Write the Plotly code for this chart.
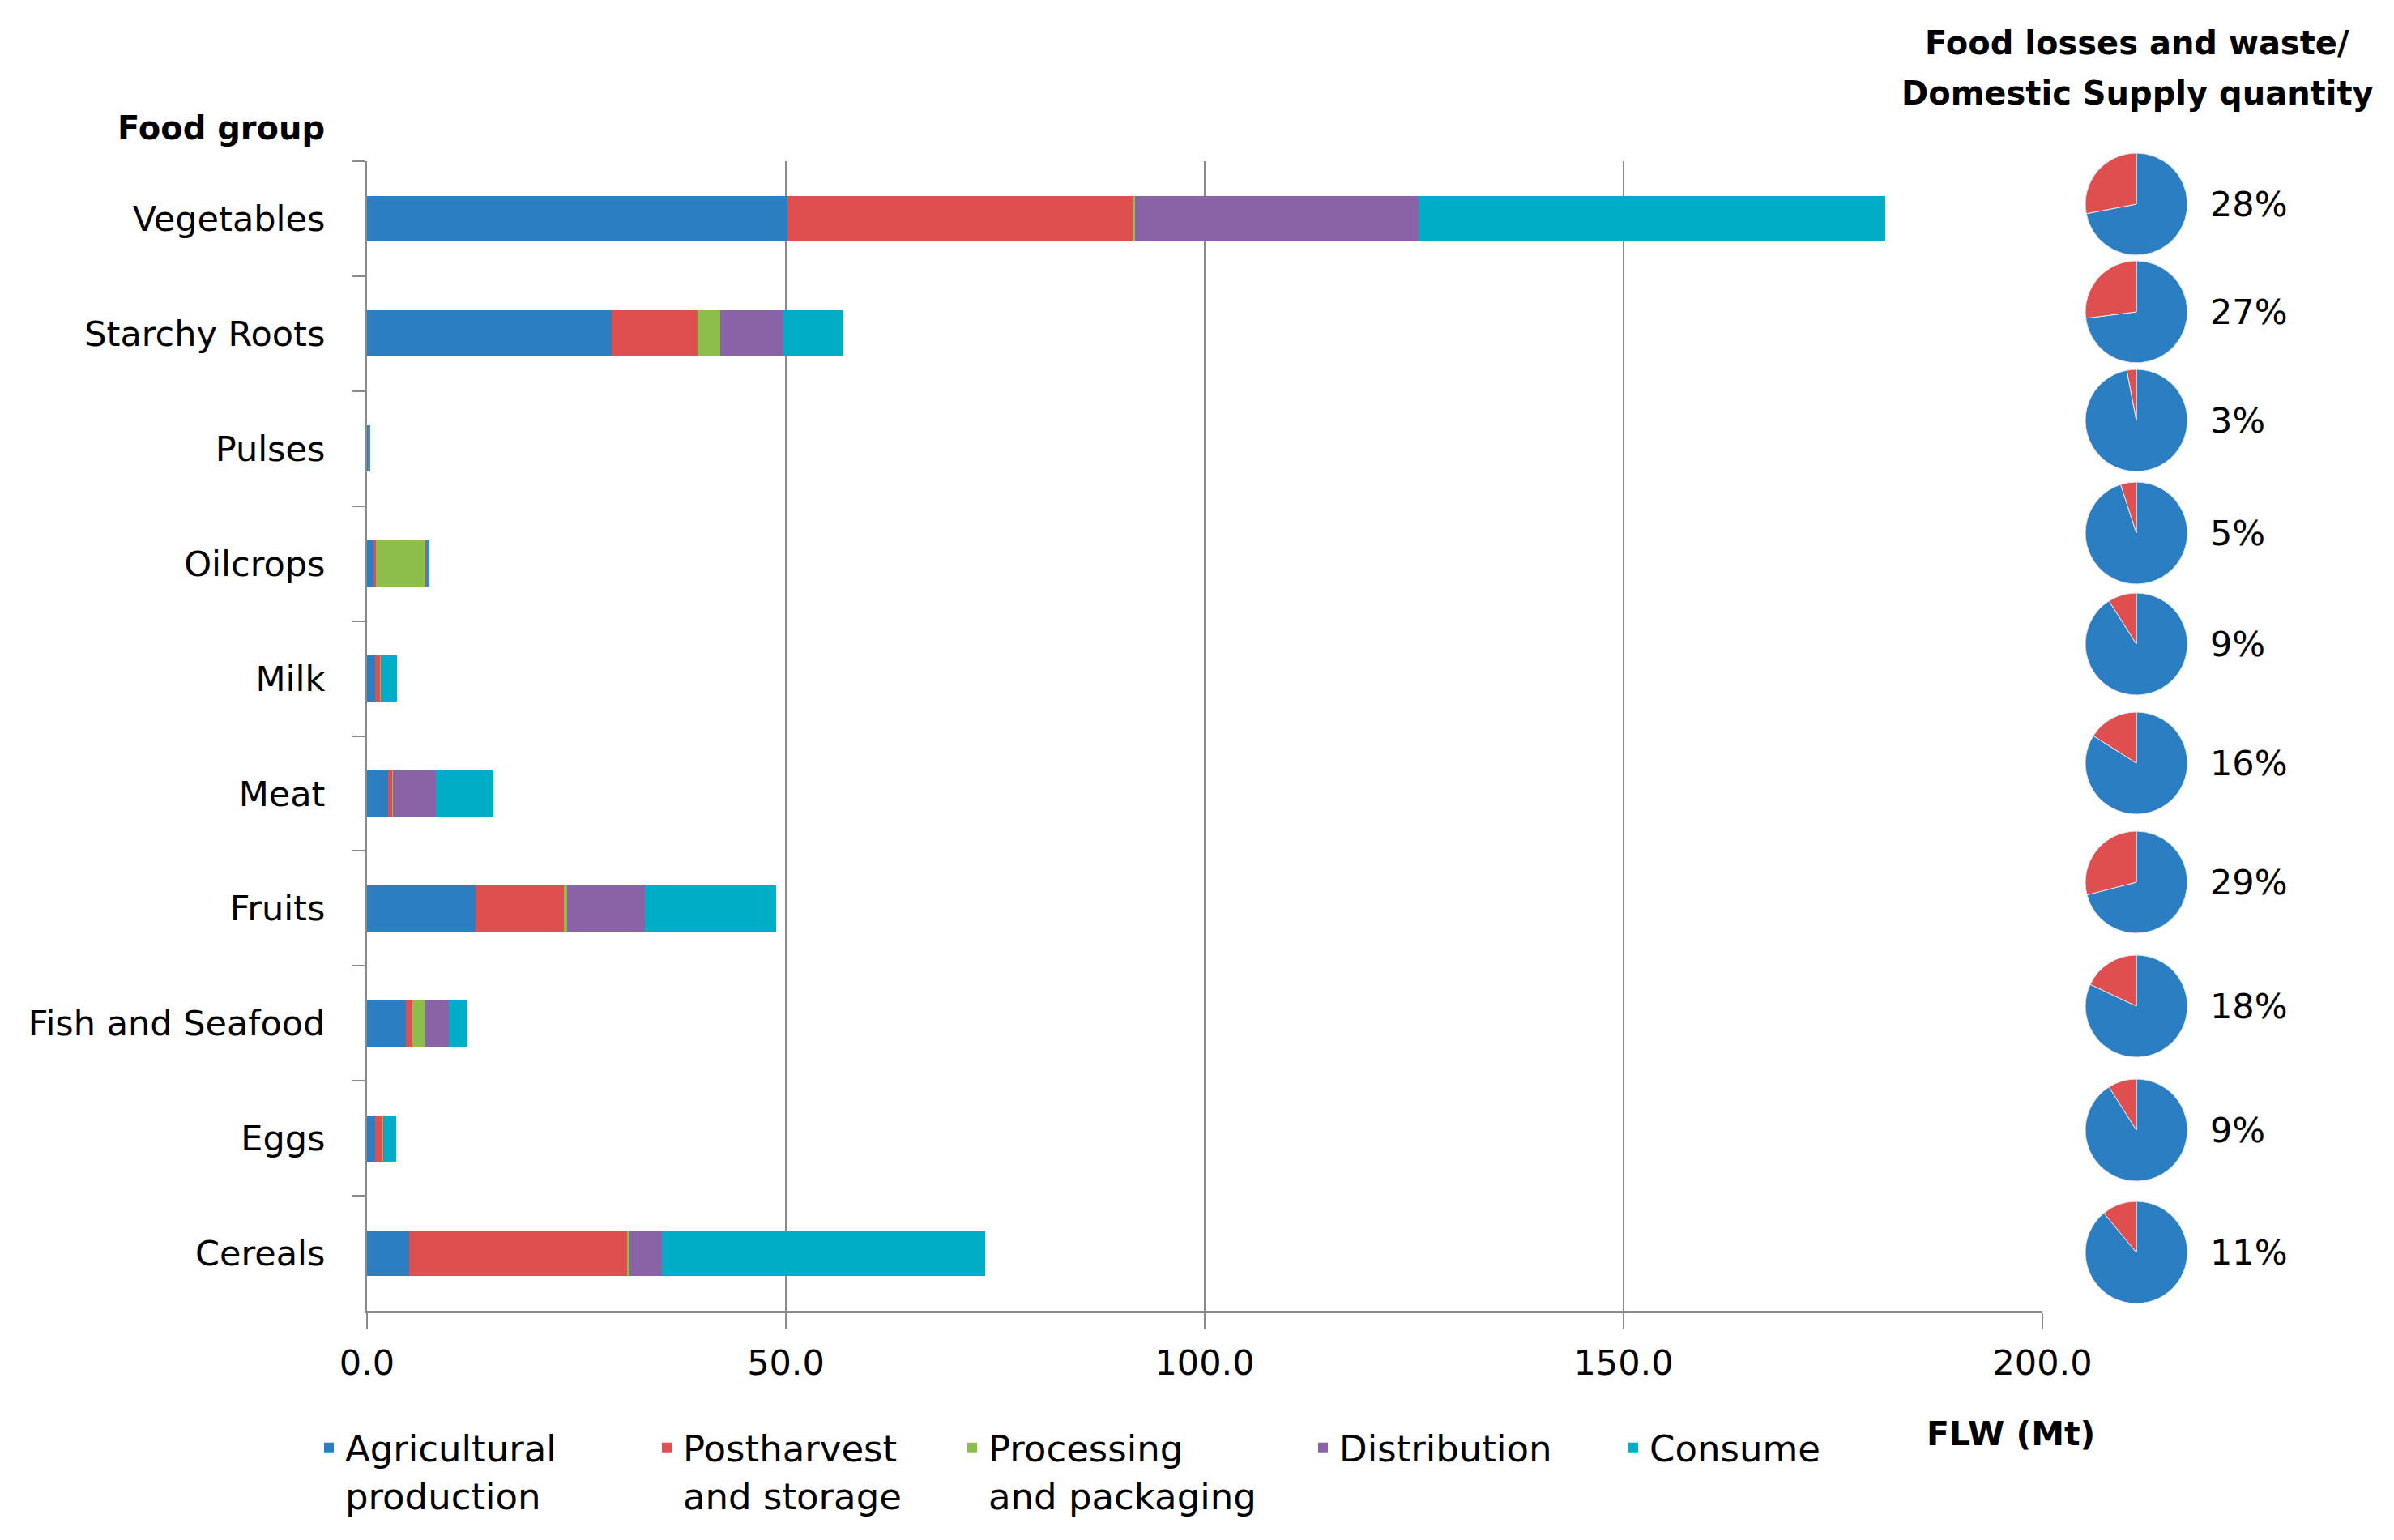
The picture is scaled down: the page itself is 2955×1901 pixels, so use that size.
import plotly.graph_objects as go

# ---------------- data ----------------
categories = ["Vegetables", "Starchy Roots", "Pulses", "Oilcrops", "Milk",
              "Meat", "Fruits", "Fish and Seafood", "Eggs", "Cereals"]
stage_names = ["Agricultural<br>production", "Postharvest<br>and storage",
               "Processing<br>and packaging", "Distribution", "Consume"]
agricultural = [50.2, 29.2, 0.15, 0.8, 1.0, 2.5, 13.0, 4.6, 1.0, 5.0]
postharvest = [41.2, 10.3, 0.05, 0.3, 0.6, 0.5, 10.5, 0.8, 0.9, 26.0]
processing = [0.3, 2.7, 0.02, 5.9, 0.05, 0.05, 0.4, 1.5, 0.05, 0.3]
distribution = [33.8, 7.4, 0.03, 0.3, 0.1, 5.2, 9.3, 2.9, 0.05, 3.9]
consume = [55.7, 7.2, 0.1, 0.1, 1.8, 6.8, 15.6, 2.1, 1.5, 38.6]
flw_share_pct = [28, 27, 3, 5, 9, 16, 29, 18, 9, 11]
x_tick_vals = [0, 50, 100, 150, 200]

# ---------------- style ----------------
stage_colors = ["#2A7EC1", "#DF4F4F", "#8DBE4B", "#8A63A6", "#00ADC6"]
legend_widths = [372, 332, 388, 338, None]
FONT = "DejaVu Sans"
AXIS_GRAY = "#8a8a8a"

W, H = 2955, 1901
ML, MR, MT, MB = 445, 15, 142, 291
PLOT_RIGHT, PLOT_TOP = 2513, 191
paper_w = W - ML - MR
paper_h = H - MT - MB


def px_x(px):
    return (px - ML) / paper_w


def px_y(py):
    return (H - MB - py) / paper_h


pie_center_x = 2629
pie_centers_y = [244, 377, 511, 650, 787, 934, 1081, 1234, 1387, 1538]
pie_radius = 63
pct_label_x = 2718

fig = go.Figure()

series = [agricultural, postharvest, processing, distribution, consume]
for name, vals, col, lw in zip(stage_names, series, stage_colors, legend_widths):
    kw = {}
    if lw is not None:
        kw["legendwidth"] = lw
    fig.add_trace(go.Bar(
        y=categories, x=vals, name=name, orientation="h",
        marker=dict(color=col, line=dict(width=0)),
        hoverinfo="x+name", **kw))

for cy, pct in zip(pie_centers_y, flw_share_pct):
    fig.add_trace(go.Pie(
        values=[100 - pct, pct], labels=["Rest", "FLW"],
        marker=dict(colors=[stage_colors[0], stage_colors[1]],
                    line=dict(color="#e8e8f0", width=1)),
        sort=False, direction="clockwise", rotation=0,
        textinfo="none", hoverinfo="skip", showlegend=False,
        domain=dict(x=[px_x(pie_center_x - pie_radius), px_x(pie_center_x + pie_radius)],
                    y=[px_y(cy + pie_radius), px_y(cy - pie_radius)])))

annotations = []
for cy, pct in zip(pie_centers_y, flw_share_pct):
    annotations.append(dict(
        x=px_x(pct_label_x), y=px_y(cy), xref="paper", yref="paper",
        text=f"{pct}%", showarrow=False, xanchor="left", yanchor="middle",
        font=dict(family=FONT, size=43, color="black")))

for line_text, ly in [("<b>Food losses and waste/</b>", 45),
                      ("<b>Domestic Supply quantity</b>", 107)]:
    annotations.append(dict(
        x=px_x(2630), y=px_y(ly), xref="paper", yref="paper",
        text=line_text, showarrow=False, xanchor="center", yanchor="middle",
        font=dict(family=FONT, size=40, color="black")))
annotations.append(dict(
    x=px_x(395), y=px_y(150), xref="paper", yref="paper",
    text="<b>Food group</b>", showarrow=False, xanchor="right", yanchor="middle",
    font=dict(family=FONT, size=40, color="black")))
annotations.append(dict(
    x=px_x(2580), y=px_y(1762), xref="paper", yref="paper",
    text="<b>FLW (Mt)</b>", showarrow=False, xanchor="right", yanchor="middle",
    font=dict(family=FONT, size=41, color="black")))

fig.update_layout(
    width=W, height=H,
    margin=dict(l=ML, r=MR, t=MT, b=MB, autoexpand=False),
    paper_bgcolor="white", plot_bgcolor="white",
    barmode="stack", bargap=0.6,
    font=dict(family=FONT, size=40, color="black"),
    showlegend=True,
    legend=dict(orientation="h", x=px_x(378), y=px_y(1743),
                xanchor="left", yanchor="top", valign="top",
                traceorder="normal",
                font=dict(family=FONT, size=45, color="black"),
                bgcolor="rgba(0,0,0,0)"),
    xaxis=dict(domain=[0, px_x(PLOT_RIGHT)], range=[0, 200],
               tickvals=x_tick_vals, tickformat=".1f",
               showgrid=True, gridcolor=AXIS_GRAY, gridwidth=2,
               showline=True, linecolor=AXIS_GRAY, linewidth=3,
               ticks="outside", ticklen=19, tickwidth=2, tickcolor=AXIS_GRAY,
               ticklabelstandoff=5, zeroline=False,
               tickfont=dict(family=FONT, size=43, color="black")),
    yaxis=dict(domain=[0, px_y(PLOT_TOP)], autorange="reversed",
               type="category", tickson="boundaries",
               showgrid=False, showline=True, linecolor=AXIS_GRAY, linewidth=3,
               ticks="outside", ticklen=15, tickwidth=2, tickcolor=AXIS_GRAY,
               ticklabelstandoff=40,
               tickfont=dict(family=FONT, size=43, color="black")),
    annotations=annotations,
)

fig.write_html("out.html")
